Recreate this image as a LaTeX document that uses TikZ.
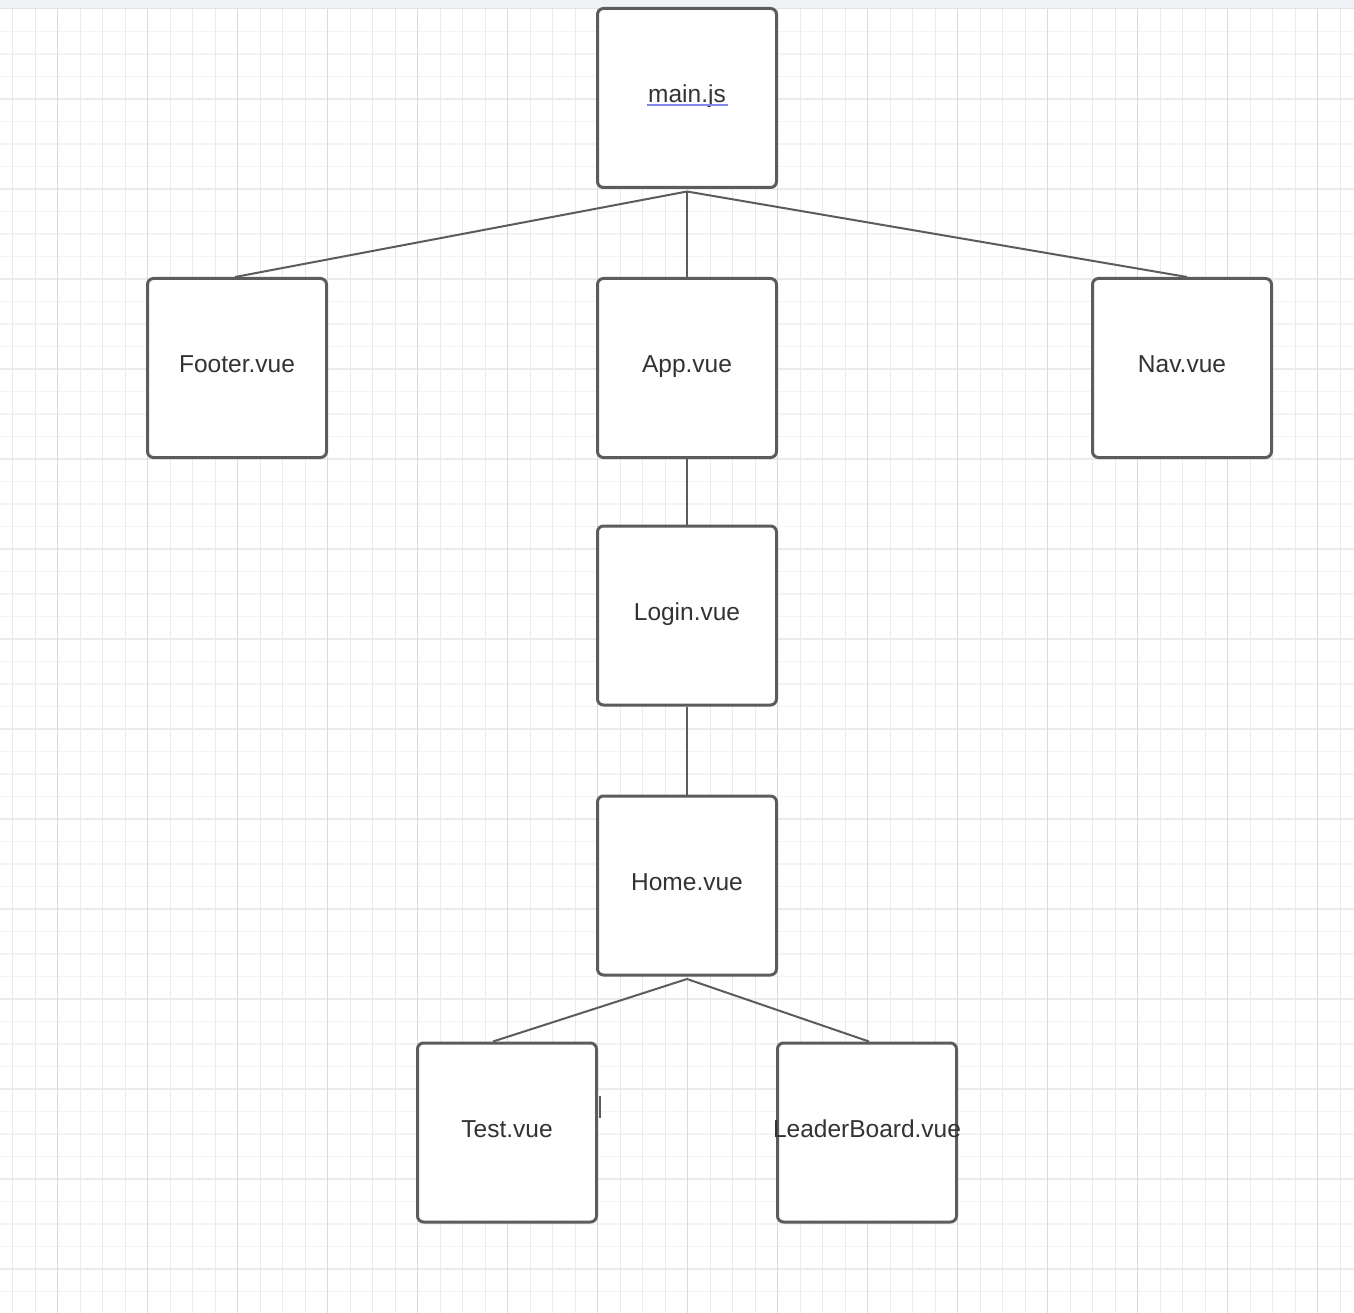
\documentclass[tikz,border=0pt]{standalone}
\usepackage{fontspec}
\setmainfont{Liberation Sans}
\definecolor{gridmin}{HTML}{EAEAEA}
\definecolor{gridmaj}{HTML}{DADADA}
\definecolor{hgridmin}{HTML}{F3F3F3}
\definecolor{hgridmaj}{HTML}{EBEBEB}
\definecolor{boxline}{HTML}{5C5C5C}
\definecolor{txt}{HTML}{333333}
\definecolor{band}{HTML}{F0F1F4}
\definecolor{bandline}{HTML}{E1E3E7}
\definecolor{spell}{HTML}{8484F0}
\tikzset{
  filebox/.style={draw=boxline, line width=3pt, rounded corners=6pt, fill=white,
    minimum width=179pt, minimum height=179pt, inner sep=0pt},
  lbl/.style={text=txt, font=\fontsize{24.5}{29}\selectfont, inner sep=0pt,
    text height=15pt, text depth=5pt},
  link/.style={draw=boxline, line width=2pt}
}
\begin{document}
\begin{tikzpicture}[x=1pt,y=-1pt]
\useasboundingbox (0,0) rectangle (1354,1313);
\fill[white] (0,0) rectangle (1354,1313);
% grid
\foreach \k in {1,...,57}{
  \pgfmathsetmacro{\yy}{9+22.5*\k}
  \pgfmathtruncatemacro{\mm}{mod(\k,4)}
  \ifnum\mm=0
    \draw[hgridmaj, line width=1.6pt] (0,\yy) -- (1354,\yy);
  \else
    \draw[hgridmin, line width=1.6pt] (0,\yy) -- (1354,\yy);
  \fi
}
\foreach \k in {0,...,59}{
  \pgfmathsetmacro{\xx}{12.5+22.5*\k}
  \pgfmathtruncatemacro{\mm}{mod(\k,4)}
  \ifnum\mm=2
    \draw[gridmaj, line width=1.2pt] (\xx,9) -- (\xx,1313);
  \else
    \draw[gridmin, line width=1pt] (\xx,9) -- (\xx,1313);
  \fi
}
\fill[band] (0,0) rectangle (1354,8.5);
\draw[bandline, line width=1pt] (0,8.5) -- (1354,8.5);

% boxes
\node[filebox] (main) at (687,98) {};
\node[filebox] (footer) at (237,368) {};
\node[filebox] (app) at (687,368) {};
\node[filebox] (nav) at (1182,368) {};
\node[filebox] (login) at (687,615.5) {};
\node[filebox] (home) at (687,885.5) {};
\node[filebox] (test) at (507,1132.5) {};
\node[filebox] (lb) at (867,1132.5) {};

% connectors
\coordinate (mj) at ([yshift=-2.5pt]main.south);
\coordinate (hj) at ([yshift=-2.5pt]home.south);
\draw[link] (mj) -- ([xshift=-2pt]footer.north);
\draw[link] (mj) -- (app.north);
\draw[link] (mj) -- ([xshift=5pt]nav.north);
\draw[link] (app.south) -- (login.north);
\draw[link] (login.south) -- (home.north);
\draw[link] (hj) -- ([xshift=-14pt]test.north);
\draw[link] (hj) -- ([xshift=2pt]lb.north);
\coordinate (tk1) at ([xshift=2pt,yshift=37pt]test.east);
\coordinate (tk2) at ([xshift=2pt,yshift=14.5pt]test.east);
\draw[link] (tk1) -- (tk2);

% labels
\node[lbl] (tmain) at (main.center) {main.js};
\draw[spell, line width=1.5pt] ([xshift=-1pt,yshift=3pt]tmain.south west) -- ([xshift=1.5pt,yshift=3pt]tmain.south east);
\node[lbl] (tfooter) at (footer.center) {Footer.vue};
\node[lbl] (tapp) at (app.center) {App.vue};
\node[lbl] (tnav) at (nav.center) {Nav.vue};
\node[lbl] (tlogin) at (login.center) {Login.vue};
\node[lbl] (thome) at (home.center) {Home.vue};
\node[lbl] (ttest) at (test.center) {Test.vue};
\node[lbl] (tlb) at (lb.center) {LeaderBoard.vue};
\end{tikzpicture}
\end{document}
